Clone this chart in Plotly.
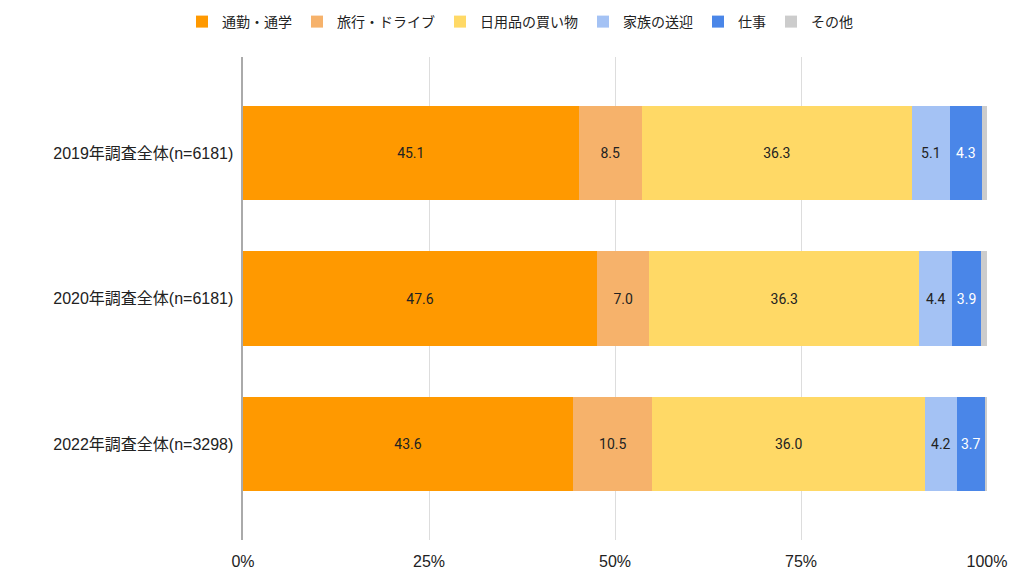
import plotly.graph_objects as go

# survey groups (top to bottom)
groups = ["2019年調査全体(n=6181)", "2020年調査全体(n=6181)", "2022年調査全体(n=3298)"]

# purposes and their shares (%) per group
purposes = ["通勤・通学", "旅行・ドライブ", "日用品の買い物", "家族の送迎", "仕事", "その他"]
commute = [45.1, 47.6, 43.6]
travel = [8.5, 7.0, 10.5]
shopping = [36.3, 36.3, 36.0]
family = [5.1, 4.4, 4.2]
work = [4.3, 3.9, 3.7]
other = [0.7, 0.8, 0.3]

x_ticks = [0, 25, 50, 75, 100]
x_tick_labels = ["0%", "25%", "50%", "75%", "100%"]

series = [commute, travel, shopping, family, work, other]
colors = ["#ff9900", "#f6b26b", "#ffd966", "#a4c2f4", "#4a86e8", "#cccccc"]
text_colors = ["#222222", "#222222", "#222222", "#222222", "#ffffff", "#222222"]

# page is drawn with an 8px body margin, so margins are shifted by that much
off = 8

fig = go.Figure()
for name, vals, color, tcolor in zip(purposes, series, colors, text_colors):
    show_text = name != "その他"
    fig.add_trace(go.Bar(
        name=name,
        y=groups,
        x=vals,
        orientation="h",
        marker=dict(color=color, line=dict(width=0)),
        text=[f"{v:.1f}" for v in vals] if show_text else None,
        texttemplate="%{text}" if show_text else None,
        textposition="inside" if show_text else "none",
        insidetextanchor="middle",
        textangle=0,
        textfont=dict(color=tcolor, size=14, family="Roboto"),
        hoverinfo="skip",
    ))

fig.update_layout(
    barmode="stack",
    barnorm="percent",
    bargap=0.35,
    width=1024,
    height=579,
    margin=dict(l=243 - off, r=37 + off, t=57 - off, b=39 + off),
    paper_bgcolor="white",
    plot_bgcolor="white",
    font=dict(family="Liberation Sans, Noto Sans CJK JP, sans-serif", size=15, color="#222222"),
    uniformtext=dict(minsize=14, mode="show"),
    legend=dict(
        orientation="h",
        xref="container", x=0.5, xanchor="center",
        yref="container", y=1 - (22 - off) / 579, yanchor="middle",
        font=dict(size=14, color="#222222", family="Noto Sans CJK JP, sans-serif"),
        traceorder="normal",
        itemwidth=30,
    ),
    xaxis=dict(
        range=[0, 100],
        tickvals=x_ticks,
        ticktext=x_tick_labels,
        showgrid=True,
        gridcolor="#dddddd",
        gridwidth=1,
        zeroline=False,
        showline=False,
        ticks="",
        ticklabelstandoff=10,
        tickfont=dict(size=16, color="#222222"),
    ),
    yaxis=dict(
        range=[2.66, -0.66],
        showgrid=False,
        zeroline=False,
        showline=True,
        linecolor="#aaaaaa",
        linewidth=2,
        ticks="",
        ticksuffix=" ",
        tickfont=dict(size=16, color="#222222"),
    ),
)

fig.write_html("out.html")
